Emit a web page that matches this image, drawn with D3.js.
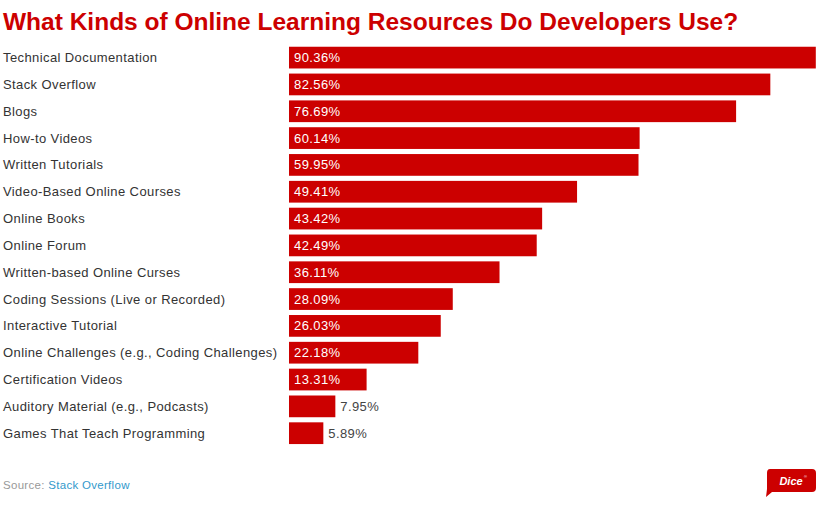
<!DOCTYPE html>
<html>
<head>
<meta charset="utf-8">
<script src="https://cdn.jsdelivr.net/npm/d3@7"></script>
<style>
  body { margin: 0; background: #fff; }
  svg { display: block; font-family: "Liberation Sans", Arial, sans-serif; }
</style>
</head>
<body>
<svg id="chart" width="827" height="506"></svg>
<script>
const categories = [
  "Technical Documentation",
  "Stack Overflow",
  "Blogs",
  "How-to Videos",
  "Written Tutorials",
  "Video-Based Online Courses",
  "Online Books",
  "Online Forum",
  "Written-based Online Curses",
  "Coding Sessions (Live or Recorded)",
  "Interactive Tutorial",
  "Online Challenges (e.g., Coding Challenges)",
  "Certification Videos",
  "Auditory Material (e.g., Podcasts)",
  "Games That Teach Programming"
];
const values = [90.36, 82.56, 76.69, 60.14, 59.95, 49.41, 43.42, 42.49, 36.11, 28.09, 26.03, 22.18, 13.31, 7.95, 5.89];

const svg = d3.select("#chart");
const red = "#cc0000";

svg.append("text")
  .attr("x", 3).attr("y", 30)
  .attr("font-size", 24.5).attr("font-weight", "bold")
  .attr("fill", red)
  .text("What Kinds of Online Learning Resources Do Developers Use?");

const x = d3.scaleLinear().domain([0, 100]).range([289, 872]);
const y = d3.scaleBand().domain(categories).range([45.4, 445.4]).paddingInner(0.19).paddingOuter(0.05);

const rows = svg.append("g").selectAll("g").data(categories).join("g");

rows.append("text")
  .attr("x", 3)
  .attr("y", d => y(d) + y.bandwidth() / 2 + 4.5)
  .attr("font-size", 13)
  .attr("letter-spacing", 0.4)
  .attr("fill", "#333")
  .text(d => d);

rows.append("rect")
  .attr("x", x(0))
  .attr("y", d => y(d))
  .attr("width", (d, i) => x(values[i]) - x(0))
  .attr("height", y.bandwidth())
  .attr("fill", red);

rows.append("text")
  .attr("x", (d, i) => values[i] < 10 ? x(values[i]) + 5 : x(0) + 5)
  .attr("y", d => y(d) + y.bandwidth() / 2 + 4.5)
  .attr("font-size", 13)
  .attr("letter-spacing", 0.4)
  .attr("fill", (d, i) => values[i] < 10 ? "#444" : "#fff")
  .text((d, i) => values[i].toFixed(2) + "%");

const src = svg.append("text").attr("x", 3).attr("y", 489)
  .attr("font-size", 11.5).attr("letter-spacing", 0.3);
src.append("tspan").attr("fill", "#999").text("Source: ");
src.append("tspan").attr("fill", "#3399cc").text("Stack Overflow");

// Dice badge
const logo = svg.append("g").attr("transform", "translate(766,469)");
logo.append("path")
  .attr("d", "M4,0 H46 Q50,0 50,4 V19 Q50,23 46,23 H6 L0,28 L1,20 V4 Q1,0 4,0 Z")
  .attr("fill", red);
logo.append("text")
  .attr("x", 25).attr("y", 16)
  .attr("text-anchor", "middle")
  .attr("font-size", 11).attr("font-weight", "bold").attr("font-style", "italic")
  .attr("fill", "#fff")
  .text("Dice");
logo.append("text")
  .attr("x", 38).attr("y", 9)
  .attr("font-size", 4).attr("fill", "#fff")
  .text("®");
</script>
</body>
</html>
